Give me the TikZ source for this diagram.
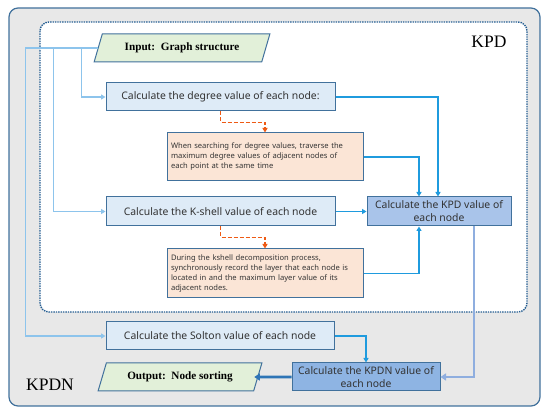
\documentclass[tikz,border=0pt]{standalone}
\usepackage{fontspec}
\setmainfont{Liberation Serif}
\newfontfamily\uisans{Noto Sans}
\usetikzlibrary{arrows.meta,shapes.geometric}
\hyphenpenalty=10000
\exhyphenpenalty=10000
\definecolor{boxedge}{HTML}{41719C}
\definecolor{lightfill}{HTML}{DEEBF7}
\definecolor{orfill}{HTML}{FBE5D6}
\definecolor{kpdfill}{HTML}{A9C4EA}
\definecolor{kpdnfill}{HTML}{8EB4E3}
\definecolor{grfill}{HTML}{E2F0D9}
\definecolor{paleline}{HTML}{8DC4EC}
\definecolor{brightline}{HTML}{1F9BDE}
\definecolor{midline}{HTML}{8FAEDF}
\definecolor{darkline}{HTML}{2E75B6}
\definecolor{dashor}{HTML}{EE5A14}
\definecolor{outergray}{HTML}{E8E8E8}
\definecolor{txtgray}{HTML}{333333}
\tikzset{
  calcbox/.style={draw=boxedge, line width=1pt, fill=lightfill, minimum width=229pt, minimum height=28pt, inner sep=0pt, font=\uisans\fontsize{10.4}{12}\selectfont, text=txtgray},
  notebox/.style={draw=boxedge, line width=1pt, fill=orfill, minimum width=196pt, text width=188pt, align=left, inner xsep=4pt, inner ysep=4pt, font=\uisans\fontsize{7.6}{10}\selectfont, text=txtgray},
  resbox/.style={draw=boxedge, line width=1pt, minimum width=144pt, minimum height=29pt, inner sep=0pt, align=center, font=\uisans\fontsize{10.4}{13}\selectfont, text=txtgray},
  iobox/.style={trapezium, trapezium left angle=60, trapezium right angle=120, trapezium stretches=true, draw=boxedge, line width=1pt, fill=grfill, minimum height=28pt, inner sep=0pt, font=\bfseries\fontsize{11.2}{13}\selectfont},
  paleconn/.style={draw=paleline, line width=1.8pt, -{Triangle[length=4.5pt,width=5pt]}},
  brightconn/.style={draw=brightline, line width=1.8pt, -{Triangle[length=4.5pt,width=5pt]}},
  dashconn/.style={draw=dashor, line width=1.6pt, dash pattern=on 4pt off 2pt, -{Triangle[length=4.5pt,width=5pt]}},
}
\begin{document}
\begin{tikzpicture}[x=1pt,y=-1pt]
\useasboundingbox (0,0) rectangle (550,414);
% outer and inner frames
\draw[draw=boxedge, line width=1.2pt, fill=outergray, rounded corners=9pt] (9,8) rectangle (540,406);
\draw[draw=darkline!80!black, line width=1.4pt, densely dotted, fill=white, rounded corners=9pt] (40,22) rectangle (527,312);
\node[font=\fontsize{17.5}{19}\selectfont, anchor=center] (kpdlabel) at (489,42) {KPD};
\node[font=\fontsize{17.5}{19}\selectfont, anchor=center] (kpdnlabel) at (50,385) {KPDN};
% nodes
\node[iobox, minimum width=176pt] (in) at (182,48) {Input:\ \ Graph structure};
\node[calcbox] (deg) at (220.5,97) {Calculate the degree value of each node:};
\node[notebox, minimum height=48pt] (o1) at (265,157) {When searching for degree values, traverse the\\maximum degree values of adjacent nodes of\\each point at the same time};
\node[calcbox, minimum height=29pt] (ks) at (220.5,211.5) {Calculate the K-shell value of each node};
\node[notebox, minimum height=49pt] (o2) at (265,273.5) {During the kshell decomposition process,\\synchronously record the layer that each node is\\located in and the maximum layer value of its\\adjacent nodes.};
\node[resbox, fill=kpdfill] (kpd) at (439,211.5) {Calculate the KPD value of\\each node};
\node[calcbox, minimum width=228pt] (sol) at (220,336) {Calculate the Solton value of each node};
\node[resbox, fill=kpdnfill, minimum width=148pt, minimum height=28pt] (kpdn) at (366,377) {Calculate the KPDN value of\\each node};
\node[iobox, minimum width=164pt] (out) at (180,377) {Output:\ \ Node sorting};
% connectors from input
\draw[paleconn] (in.west) -| ([xshift=-24pt]deg.west) -- (deg.west);
\draw[paleconn] (in.west) -| ([xshift=-52pt]ks.west) -- (ks.west);
\draw[paleconn] (in.west) -| ([xshift=-80pt]sol.west) -- (sol.west);
% dashed
\draw[dashconn] (deg.south) -- ++(0,11) -| (o1.north);
\draw[dashconn] (ks.south) -- ++(0,11) -| (o2.north);
% into KPD
\draw[brightconn] (deg.east) -| ([xshift=-1pt]kpd.north);
\draw[brightconn] (o1.east) -| ([xshift=-20pt]kpd.north);
\draw[brightconn] (ks.east) -- (kpd.west);
\draw[brightconn] (o2.east) -| ([xshift=-20pt]kpd.south);
% KPD to KPDN
\draw[draw=midline, line width=2.6pt, -{Triangle[length=5.5pt,width=7pt]}] ([xshift=35pt]kpd.south) |- (kpdn.east);
\draw[brightconn] (sol.east) -| (kpdn.north);
\draw[draw=darkline, line width=2.6pt, -{Triangle[length=5.5pt,width=7pt]}] (kpdn.west) -- ([xshift=-4pt]out.east);
\end{tikzpicture}
\end{document}
